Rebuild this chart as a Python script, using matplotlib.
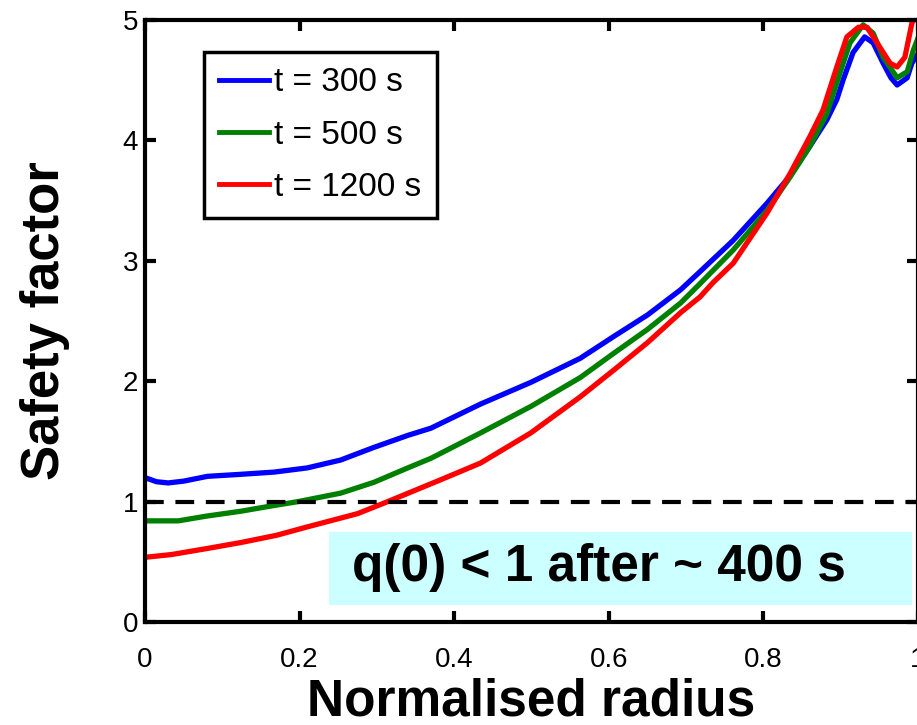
import matplotlib
matplotlib.use('Agg')
from matplotlib import pyplot as plt, patches

# profiles (normalised radius, safety factor)
x_300 = [0.004, 0.015, 0.03, 0.05, 0.081, 0.12, 0.167, 0.21, 0.253, 0.296, 0.34, 0.37,
         0.434, 0.499, 0.563, 0.606, 0.65, 0.693, 0.718, 0.761, 0.805, 0.835, 0.86,
         0.882, 0.895, 0.903, 0.916, 0.931, 0.942, 0.955, 0.965, 0.973, 0.986, 0.992, 1.0]
q_300 = [1.19, 1.165, 1.155, 1.17, 1.21, 1.225, 1.245, 1.28, 1.345, 1.45, 1.55, 1.61,
         1.81, 1.99, 2.19, 2.37, 2.55, 2.76, 2.91, 3.17, 3.48, 3.71, 3.95,
         4.17, 4.34, 4.50, 4.73, 4.86, 4.81, 4.64, 4.52, 4.46, 4.52, 4.64, 4.72]

x_500 = [0.004, 0.043, 0.08, 0.124, 0.16, 0.198, 0.253, 0.296, 0.34, 0.37, 0.434, 0.499,
         0.563, 0.606, 0.65, 0.693, 0.718, 0.761, 0.805, 0.835, 0.86, 0.882, 0.899,
         0.912, 0.929, 0.942, 0.955, 0.973, 0.986, 0.994, 1.0]
q_500 = [0.84, 0.84, 0.88, 0.92, 0.96, 1.0, 1.07, 1.16, 1.28, 1.36, 1.57, 1.79,
         2.03, 2.23, 2.43, 2.65, 2.81, 3.09, 3.42, 3.70, 3.95, 4.22, 4.56,
         4.81, 4.96, 4.89, 4.69, 4.52, 4.57, 4.75, 4.85]

x_1200 = [0.004, 0.034, 0.08, 0.124, 0.17, 0.21, 0.275, 0.314, 0.382, 0.434, 0.499, 0.563,
          0.606, 0.65, 0.693, 0.718, 0.735, 0.761, 0.805, 0.835, 0.86, 0.877, 0.895,
          0.908, 0.923, 0.934, 0.947, 0.964, 0.973, 0.983, 0.992, 1.0]
q_1200 = [0.54, 0.56, 0.61, 0.66, 0.72, 0.79, 0.90, 1.0, 1.18, 1.32, 1.57, 1.87,
          2.09, 2.32, 2.57, 2.70, 2.82, 2.98, 3.40, 3.73, 4.03, 4.25, 4.61,
          4.86, 4.94, 4.94, 4.81, 4.64, 4.61, 4.69, 4.97, 5.1]

labels = ['t = 300 s', 't = 500 s', 't = 1200 s']
colors = ['#0000ff', '#008000', '#ff0000']
xticks = [0, 0.2, 0.4, 0.6, 0.8, 1]
xticklabels = ['0', '0.2', '0.4', '0.6', '0.8', '1']
yticks = [0, 1, 2, 3, 4, 5]
note = 'q(0) < 1 after ~ 400 s'

plt.rcParams['font.family'] = ['Liberation Sans', 'DejaVu Sans']

fig = plt.figure(figsize=(9.17, 7.25), dpi=100)
ax = fig.add_axes([145/917, 103/725, 773/917, 602/725])

for xs, qs, lab, c in zip([x_300, x_500, x_1200], [q_300, q_500, q_1200], labels, colors):
    ax.plot(xs, qs, color=c, lw=3.8, label=lab, solid_joinstyle='round')

ax.axhline(1, color='black', lw=3, ls=(0, (4.5, 2.8)))

# shaded note box
ax.add_patch(patches.Rectangle((0.238, 0.14), 0.754, 0.61, facecolor='#ccffff',
                               edgecolor='none', zorder=1.5))
ax.text(0.268, 0.45, note, fontsize=37, fontweight='bold', va='center', ha='left', zorder=3)

ax.set_xlim(0, 1)
ax.set_ylim(0, 5)
ax.set_xticks(xticks)
ax.set_xticklabels(xticklabels)
ax.set_yticks(yticks)
for t in ax.get_xticklabels() + ax.get_yticklabels():
    t.set_fontsize(20)
ax.tick_params(direction='in', length=8, width=3, top=True, right=True, pad=5)
ax.tick_params(axis='x', pad=18)
for s in ax.spines.values():
    s.set_linewidth(3)

ax.set_xlabel('Normalised radius', fontsize=37, fontweight='bold', labelpad=3)
ax.set_ylabel('Safety factor', fontsize=38, fontweight='bold', labelpad=38)

leg = ax.legend(loc='upper left', bbox_to_anchor=(0.076, 0.947), borderaxespad=0,
                fontsize=24, handlelength=1.5, handletextpad=0.15, labelspacing=0.64,
                borderpad=0.46, fancybox=False, framealpha=1, edgecolor='black')
leg.get_frame().set_linewidth(2.5)
for line in leg.get_lines():
    line.set_linewidth(3.5)

fig.savefig('out.png', dpi=100)
